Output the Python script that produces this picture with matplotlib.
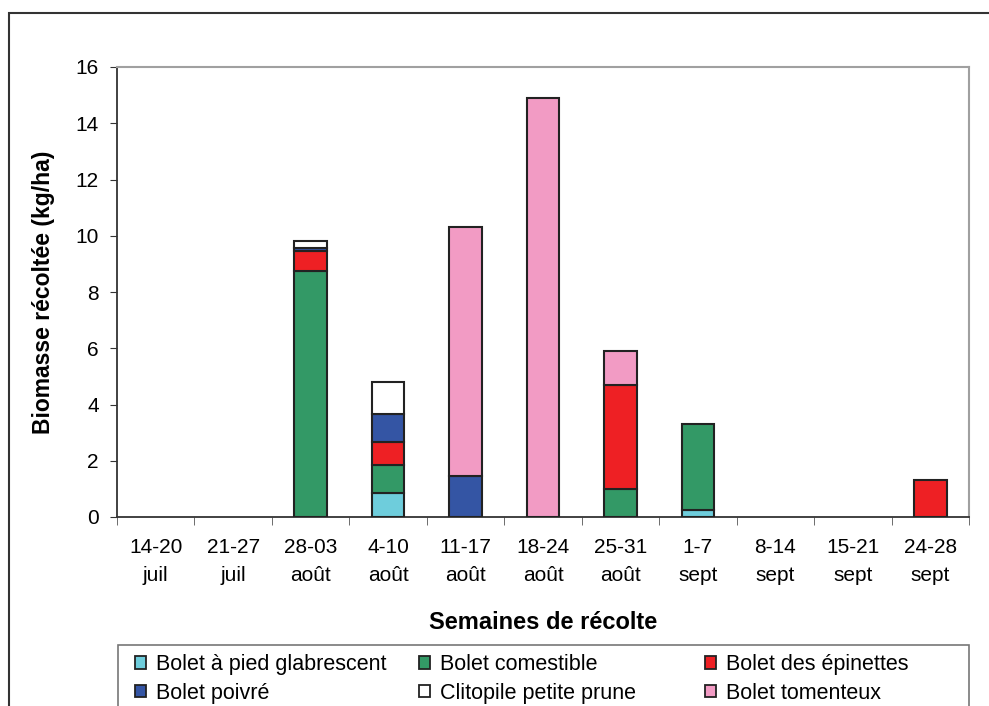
import matplotlib
matplotlib.use("Agg")
from matplotlib import pyplot as plt
from matplotlib.patches import Rectangle, Patch
import numpy as np

plt.rcParams['font.family'] = ['Liberation Sans', 'DejaVu Sans']

semaines = ["14-20\njuil", "21-27\njuil", "28-03\naoût", "4-10\naoût", "11-17\naoût",
            "18-24\naoût", "25-31\naoût", "1-7\nsept", "8-14\nsept", "15-21\nsept", "24-28\nsept"]

# biomasse par espèce (kg/ha), ordre d'empilement de bas en haut
glabrescent = [0, 0, 0, 0.85, 0, 0, 0, 0.25, 0, 0, 0]
comestible = [0, 0, 8.75, 1.0, 0, 0, 1.0, 3.05, 0, 0, 0]
epinettes = [0, 0, 0.7, 0.8, 0, 0, 3.7, 0, 0, 0, 1.3]
poivre = [0, 0, 0.1, 1.0, 1.45, 0, 0, 0, 0, 0, 0]
clitopile = [0, 0, 0.25, 1.15, 0, 0, 0, 0, 0, 0, 0]
tomenteux = [0, 0, 0, 0, 8.85, 14.9, 1.2, 0, 0, 0, 0]

series = [
    ("Bolet à pied glabrescent", glabrescent, "#6ecddc"),
    ("Bolet comestible", comestible, "#339966"),
    ("Bolet des épinettes", epinettes, "#ee2024"),
    ("Bolet poivré", poivre, "#3455a4"),
    ("Clitopile petite prune", clitopile, "white"),
    ("Bolet tomenteux", tomenteux, "#f29bc4"),
]

W, H = 989, 706
fig = plt.figure(figsize=(W / 100, H / 100), dpi=100)
ax = fig.add_axes([117 / W, 1 - 517 / H, (969 - 117) / W, (517 - 67) / H])

x = np.arange(len(semaines))
bottom = np.zeros(len(semaines))
for name, vals, col in series:
    v = np.array(vals, dtype=float)
    m = v > 0
    ax.bar(x[m], v[m], bottom=bottom[m], width=0.42, color=col,
           edgecolor="#222222", linewidth=1.5, zorder=3)
    bottom += v

ax.set_xlim(-0.5, len(semaines) - 0.5)
ax.set_ylim(0, 16)
ax.set_yticks(np.arange(0, 17, 2))
ax.set_xticks(x)
ax.set_xticklabels(semaines, linespacing=1.6)
ax.set_xticks(np.arange(-0.5, len(semaines)), minor=True)
ax.tick_params(axis="x", which="major", length=0, pad=15, labelsize=15)
ax.tick_params(axis="x", which="minor", length=6, direction="out", color="#555555")
ax.tick_params(axis="y", length=5, direction="out", pad=8, labelsize=15, color="#333333")

for s in ["left", "bottom"]:
    ax.spines[s].set_color("#333333")
    ax.spines[s].set_linewidth(1.3)
for s in ["top", "right"]:
    ax.spines[s].set_color("#a0a0a0")
    ax.spines[s].set_linewidth(1.5)

ax.set_xlabel("Semaines de récolte", fontsize=17, fontweight="bold", labelpad=19)
ax.set_ylabel("Biomasse récoltée (kg/ha)", fontsize=16.5, fontweight="bold", labelpad=15)

# cadre extérieur
fig.add_artist(Rectangle((9 / W, -0.1), 1.2, 1.1 - 13 / H, transform=fig.transFigure,
                         fill=False, ec="#333333", lw=1.5))
# cadre de légende
fig.add_artist(Rectangle((118 / W, -0.1), (969 - 118) / W, 0.1 + 1 - 645 / H,
                         transform=fig.transFigure, fill=False, ec="#777777", lw=1.2))

cols_x = [120, 404, 690]
for i, cx in enumerate(cols_x):
    hs = []
    for name, vals, col in [series[i], series[i + 3]]:
        hs.append(Patch(facecolor=col, edgecolor="#222222", linewidth=1.3, label=name))
    fig.legend(handles=hs, loc="upper left", bbox_to_anchor=(cx / W, 1 - 639 / H),
               frameon=False, fontsize=15.5, handlelength=0.5, handleheight=0.5,
               handletextpad=0.45, labelspacing=0.35, borderpad=0.2)

fig.savefig("out.png", dpi=100)
